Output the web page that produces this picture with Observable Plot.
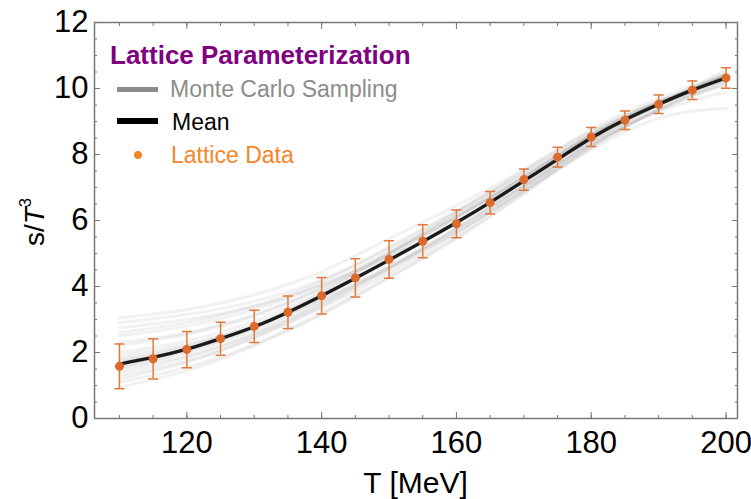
<!DOCTYPE html>
<html><head><meta charset="utf-8">
<script src="https://cdn.jsdelivr.net/npm/d3@7"></script>
<script src="https://cdn.jsdelivr.net/npm/@observablehq/plot@0.6"></script>
<style>
html,body{margin:0;padding:0;background:#fff;}
#wrap{position:relative;width:751px;height:499px;font-family:"Liberation Sans",Arial,sans-serif;overflow:hidden;}
.lg{position:absolute;white-space:nowrap;line-height:1;}
.sw{position:absolute;}
</style></head><body><div id="wrap"></div>
<script>
// Lattice data
const T = [110,115,120,125,130,135,140,145,150,155,160,165,170,175,180,185,190,195,200];
const latticeS = [1.58,1.81,2.09,2.42,2.79,3.22,3.72,4.26,4.82,5.37,5.90,6.54,7.24,7.92,8.53,9.04,9.52,9.95,10.32];
const latticeErr = [0.68,0.61,0.55,0.50,0.49,0.49,0.55,0.58,0.57,0.50,0.42,0.34,0.32,0.30,0.29,0.28,0.28,0.28,0.31];
// Mean of parameterization
const meanS = [1.65,1.85,2.10,2.42,2.78,3.22,3.72,4.25,4.80,5.36,5.94,6.55,7.20,7.85,8.50,9.05,9.52,9.95,10.32];
// Monte Carlo sample curves (values at mcT)
const mcT = [110,120,130,140,150,160,170,180,190,200];
const mc01 = [3.05,3.30,3.75,4.45,5.45,6.45,7.55,8.70,9.60,10.25];
const mc02 = [2.90,3.15,3.55,4.20,5.15,6.25,7.40,8.60,9.55,10.25];
const mc03 = [2.60,2.90,3.40,4.15,5.20,6.30,7.45,8.65,9.60,10.35];
const mc04 = [2.30,2.60,3.15,3.95,5.00,6.15,7.35,8.60,9.60,10.40];
const mc05 = [2.00,2.35,2.95,3.85,4.95,6.10,7.30,8.55,9.55,10.35];
const mc06 = [1.80,2.20,2.85,3.75,4.80,5.95,7.20,8.50,9.55,10.40];
const mc07 = [1.50,1.90,2.55,3.45,4.55,5.75,7.05,8.40,9.50,10.45];
const mc08 = [1.30,1.75,2.45,3.35,4.40,5.60,6.95,8.35,9.50,10.55];
const mc09 = [1.10,1.55,2.25,3.20,4.30,5.50,6.85,8.25,9.40,10.40];
const mc10 = [0.95,1.45,2.20,3.15,4.25,5.45,6.80,8.20,9.35,10.30];
const mc11 = [1.20,1.70,2.45,3.40,4.50,5.65,6.90,8.15,9.10,9.40];
const mc12 = [2.20,2.55,3.10,3.95,5.00,6.10,7.30,8.55,9.50,10.10];
const mc13 = [1.70,2.10,2.75,3.65,4.75,5.90,7.15,8.45,9.50,10.30];
const mc14 = [1.40,1.85,2.55,3.50,4.60,5.75,7.00,8.30,9.30,9.90];
const mc15 = [2.50,2.80,3.30,4.05,5.05,6.15,7.30,8.55,9.55,10.35];
const mc16 = [1.90,2.25,2.80,3.60,4.60,5.75,7.05,8.40,9.50,10.40];
const mc17 = [1.60,2.05,2.75,3.70,4.85,6.05,7.30,8.60,9.60,10.40];
const mc18 = [2.75,3.00,3.40,4.05,4.90,5.90,7.05,8.30,9.35,10.15];
const mc19 = [1.75,2.15,2.80,3.80,5.00,6.25,7.50,8.75,9.70,10.45];
const mc20 = [1.55,2.00,2.65,3.55,4.55,5.65,6.90,8.25,9.35,10.20];
// Ticks
const xMajorTicks = [120,140,160,180,200];
const xMinorTicks = [110,115,120,125,130,135,140,145,150,155,160,165,170,175,180,185,190,195,200];
const yMajorTicks = [0,2,4,6,8,10,12];
const yMinorTicks = [0,0.5,1,1.5,2,2.5,3,3.5,4,4.5,5,5.5,6,6.5,7,7.5,8,8.5,9,9.5,10,10.5,11,11.5,12];

const mcCurves = [mc01,mc02,mc03,mc04,mc05,mc06,mc07,mc08,mc09,mc10,mc11,mc12,mc13,mc14,mc15,mc16,mc17,mc18,mc19,mc20];
const mcRows = mcCurves.flatMap((c,k)=>c.map((v,i)=>({T:mcT[i], s:v, k})));
const meanRows = T.map((t,i)=>({T:t, s:meanS[i]}));
const lattice = T.map((t,i)=>({T:t, s:latticeS[i], lo:latticeS[i]-latticeErr[i], hi:latticeS[i]+latticeErr[i]}));

const capShape = {draw(ctx,l){ctx.moveTo(0,0); ctx.lineTo(0,-l);}};
const frameColor = "#777";
const errColor = "#e07a3e";
const blank = () => "";

const chart = Plot.plot({
  width:751, height:499, marginLeft:94, marginRight:14, marginTop:22, marginBottom:81,
  x:{domain:[106.3,201.7]}, y:{domain:[0,12]},
  style:{fontFamily:"'Liberation Sans', Arial, sans-serif", fontSize:"31px", color:"#000", background:"#fff"},
  marks:[
    Plot.line(mcRows,{x:"T",y:"s",z:"k",curve:"natural",stroke:"#888",strokeOpacity:0.12,strokeWidth:3}),
    Plot.line(meanRows,{x:"T",y:"s",curve:"natural",stroke:"#1a1a1a",strokeWidth:3.3}),
    Plot.ruleX(lattice,{x:"T",y1:"lo",y2:"hi",stroke:errColor,strokeWidth:1.5}),
    Plot.vector(lattice,{x:"T",y:"lo",length:9,rotate:90,anchor:"middle",shape:capShape,stroke:errColor,strokeWidth:1.5}),
    Plot.vector(lattice,{x:"T",y:"hi",length:9,rotate:90,anchor:"middle",shape:capShape,stroke:errColor,strokeWidth:1.5}),
    Plot.dot(lattice,{x:"T",y:"s",r:4.5,fill:"#dc6a2c"}),
    Plot.frame({stroke:frameColor,strokeWidth:1.5}),
    Plot.axisX({ticks:xMajorTicks,tickSize:-6,tickPadding:18,stroke:frameColor,label:null}),
    Plot.axisX({ticks:xMinorTicks,tickSize:-3,tickFormat:blank,stroke:frameColor,label:null}),
    Plot.axisX({anchor:"top",ticks:xMajorTicks,tickSize:-6,tickFormat:blank,stroke:frameColor,label:null}),
    Plot.axisX({anchor:"top",ticks:xMinorTicks,tickSize:-3,tickFormat:blank,stroke:frameColor,label:null}),
    Plot.axisY({ticks:yMajorTicks,tickSize:-6,tickPadding:12,stroke:frameColor,label:null}),
    Plot.axisY({ticks:yMinorTicks,tickSize:-3,tickFormat:blank,stroke:frameColor,label:null}),
    Plot.axisY({anchor:"right",ticks:yMajorTicks,tickSize:-6,tickFormat:blank,stroke:frameColor,label:null}),
    Plot.axisY({anchor:"right",ticks:yMinorTicks,tickSize:-3,tickFormat:blank,stroke:frameColor,label:null})
  ]
});
const wrap = document.getElementById("wrap");
wrap.appendChild(chart);

function add(html, css, cls="lg"){
  const d = document.createElement("div");
  d.className = cls; d.innerHTML = html;
  Object.assign(d.style, css);
  wrap.appendChild(d);
}
// Legend
add("Lattice Parameterization",{left:"110px",top:"42px",fontSize:"26px",fontWeight:"bold",color:"#800080"});
add("",{left:"117px",top:"86.5px",width:"41px",height:"5px",background:"#8c8c8c"},"sw");
add("Monte Carlo Sampling",{left:"170px",top:"77.5px",fontSize:"23px",color:"#8c8c8c"});
add("",{left:"117px",top:"118px",width:"41px",height:"6px",background:"#000"},"sw");
add("Mean",{left:"172px",top:"110.5px",fontSize:"23px",color:"#000"});
add("",{left:"134px",top:"151px",width:"8px",height:"8px",borderRadius:"50%",background:"#f5862a"},"sw");
add("Lattice Data",{left:"171px",top:"144px",fontSize:"23px",color:"#f5862a"});
// Axis labels
add("T [MeV]",{left:"415.5px",top:"468px",fontSize:"30px",transform:"translateX(-50%)"});
add("s/<i>T</i><span style=\"font-size:0.6em;position:relative;top:-0.75em\">3</span>",
    {left:"35px",top:"222px",fontSize:"28px",transform:"translate(-50%,-50%) rotate(-90deg)"});
</script></body></html>
